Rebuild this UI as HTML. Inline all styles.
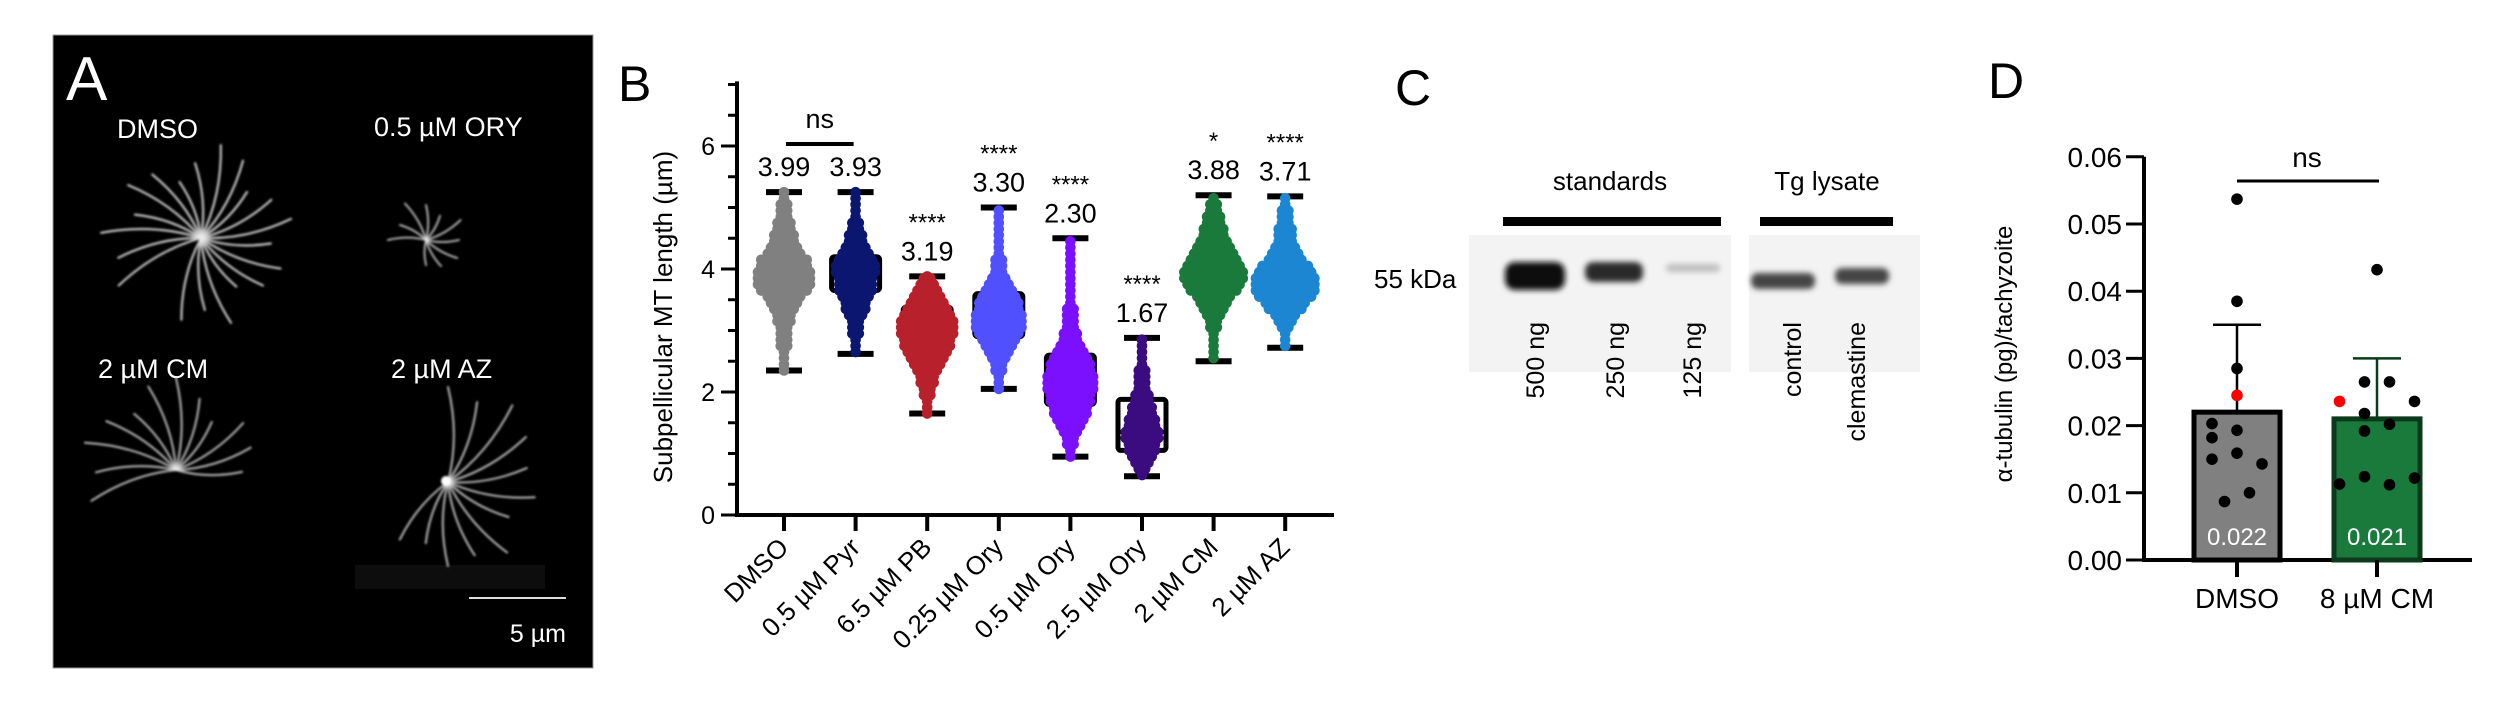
<!DOCTYPE html>
<html><head><meta charset="utf-8">
<style>
html,body{margin:0;padding:0;background:#fff;}
svg{display:block;font-family:"Liberation Sans",Arial,sans-serif;}
</style></head>
<body>
<svg id="fig" width="2495" height="712" viewBox="0 0 2495 712" xmlns="http://www.w3.org/2000/svg">
<defs>
<filter id="glow" x="-20%" y="-20%" width="140%" height="140%"><feGaussianBlur stdDeviation="1.1"/></filter>
<filter id="bandblur" x="-20%" y="-50%" width="140%" height="200%"><feGaussianBlur stdDeviation="3"/></filter>
</defs>

<!-- Panel A -->
<g>
<rect x="53" y="35" width="540" height="633" fill="#000" stroke="#999" stroke-width="1"/>
<rect x="355" y="565" width="190" height="24" fill="#0d0d0d"/>
<text x="66" y="100" font-size="62" fill="#fff">A</text>
<text x="117" y="138" font-size="27" fill="#fff">DMSO</text>
<text x="374" y="136" font-size="27" fill="#fff">0.5 µM ORY</text>
<text x="98" y="378" font-size="27" fill="#fff">2 µM CM</text>
<text x="391" y="378" font-size="27" fill="#fff">2 µM AZ</text>
<line x1="469" y1="598" x2="566" y2="598" stroke="#ddd" stroke-width="2"/>
<text x="566" y="642" font-size="25" fill="#fff" text-anchor="end">5 µm</text>
<g id="cells" filter="url(#glow)"></g>
</g>

<!-- Panel B -->
<g id="panelB">
<text x="618" y="101" font-size="50" fill="#000">B</text>
<text transform="translate(672,317) rotate(-90)" font-size="26" text-anchor="middle">Subpellicular MT length  (µm)</text>
</g>

<!-- Panel C -->
<g>
<text x="1395" y="105" font-size="50" fill="#000">C</text>
<text x="1610" y="190" font-size="26" text-anchor="middle">standards</text>
<rect x="1503" y="217" width="218" height="9" fill="#000"/>
<text x="1827" y="190" font-size="26" text-anchor="middle">Tg lysate</text>
<rect x="1760" y="217" width="133" height="9" fill="#000"/>
<rect x="1469" y="235" width="262" height="137" fill="#f3f3f3"/>
<rect x="1749" y="235" width="171" height="137" fill="#f3f3f3"/>
<g filter="url(#bandblur)">
<rect x="1505" y="262" width="60" height="28" rx="10" fill="#111"/>
<rect x="1585" y="262" width="58" height="20" rx="8" fill="#2a2a2a"/>
<rect x="1666" y="264" width="54" height="8" rx="4" fill="#bdbdbd"/>
<rect x="1751" y="273" width="64" height="16" rx="7" fill="#444"/>
<rect x="1835" y="268" width="54" height="16" rx="7" fill="#444"/>
</g>
<text x="1374" y="288" font-size="26">55 kDa</text>
<text transform="translate(1544,322) rotate(-90)" font-size="25" text-anchor="end">500 ng</text>
<text transform="translate(1624,322) rotate(-90)" font-size="25" text-anchor="end">250 ng</text>
<text transform="translate(1701,322) rotate(-90)" font-size="25" text-anchor="end">125 ng</text>
<text transform="translate(1801,322) rotate(-90)" font-size="25" text-anchor="end">control</text>
<text transform="translate(1865,322) rotate(-90)" font-size="25" text-anchor="end">clemastine</text>
</g>

<!-- Panel D -->
<g id="panelD">
<text x="1988" y="98" font-size="50" fill="#000">D</text>
<text transform="translate(2012,354) rotate(-90)" font-size="24" text-anchor="middle">α-tubulin (pg)/tachyzoite</text>
</g>
</svg>

<script>
// ---------- Panel B data ----------
var bCategories = ["DMSO","0.5 µM Pyr","6.5 µM PB","0.25 µM Ory","0.5 µM Ory","2.5 µM Ory","2 µM CM","2 µM AZ"];
var bColors = ["#808080","#0b1670","#b8202c","#5050ff","#7a10ff","#3a0c80","#1a7a3c","#1c86d2"];
var bMeanLabels = ["3.99","3.93","3.19","3.30","2.30","1.67","3.88","3.71"];
var bStars = ["","","****","****","****","****","*","****"];
var bWhiskerLow = [2.35,2.62,1.65,2.05,0.95,0.63,2.5,2.72];
var bWhiskerHigh = [5.25,5.25,3.88,5.0,4.5,2.88,5.2,5.18];
var bQ1 = [3.62,3.65,2.75,2.9,1.8,1.05,3.7,3.55];
var bQ3 = [4.15,4.2,3.38,3.6,2.6,1.88,4.12,3.92];
var bMedian = [3.88,3.88,3.0,3.2,2.2,1.35,3.85,3.7];
var bBinStart = [2.3,2.6,1.6,2.0,0.9,0.6,2.5,2.7];
var bCounts = [
 [1,1,1,1,2,2,2,2,3,3,4,5,6,8,9,9,9,8,8,6,5,4,4,3,3,2,2,2,1,1],
 [1,1,1,2,2,2,3,4,4,5,6,6,6,7,7,6,5,4,3,3,2,2,1,1,1,1,1],
 [1,1,1,2,2,3,3,4,5,6,7,8,8,9,9,9,8,7,6,5,4,3,2,1],
 [1,1,1,2,2,3,4,5,6,7,8,8,8,7,7,6,5,4,3,2,2,2,1,1,1,1,1,1,1,1],
 [1,1,2,2,3,4,5,6,6,7,7,8,8,8,7,7,6,5,4,3,3,2,2,2,2,1,1,1,1,1,1,1,1,1,1,1],
 [1,2,3,4,5,5,6,6,5,5,4,4,3,3,2,2,2,2,1,1,1,1,1],
 [1,1,1,1,1,2,2,3,4,5,6,8,9,10,10,9,8,7,6,5,4,4,3,3,2,2,1],
 [1,1,1,2,3,4,6,7,9,10,10,10,9,8,6,5,4,3,3,3,2,2,2,1,1]
];
var bYTicks = [0,2,4,6];

// ---------- Panel D data ----------
var dCategories = ["DMSO","8 µM CM"];
var dMeans = [0.022,0.021];
var dMeanLabels = ["0.022","0.021"];
var dSD = [0.013,0.009];
var dYTicks = [0,0.01,0.02,0.03,0.04,0.05,0.06];
var dYTickLabels = ["0.00","0.01","0.02","0.03","0.04","0.05","0.06"];
var dPointsDMSO = [0.0537,0.0385,0.0285,0.0245,0.0203,0.0193,0.0182,0.0159,0.015,0.0143,0.01,0.0087];
var dOffsetsDMSO = [0,0,0,0,-1,0,-1,0,-1,1,0.5,-0.5];
var dPointsCM = [0.0432,0.0265,0.0265,0.0236,0.0236,0.0218,0.0202,0.0192,0.0113,0.0124,0.0112,0.0122];
var dOffsetsCM = [0,-0.5,0.5,-1.5,1.5,-0.5,0.5,-0.5,-1.5,-0.5,0.5,1.5];
var dRedIndex = 3;

var NS = "http://www.w3.org/2000/svg";
function mk(tag, attrs, parent){
  var e = document.createElementNS(NS, tag);
  for (var k in attrs) e.setAttribute(k, attrs[k]);
  parent.appendChild(e);
  return e;
}

// ---------- Panel B draw ----------
(function(){
  var g = document.getElementById("panelB");
  var axX = 737, y0 = 515, unit = 61.5, x0 = 784, step = 71.6, xEnd = 1334;
  function yS(v){ return y0 - v*unit; }
  function xS(i){ return x0 + i*step; }
  var yl = mk("line",{x1:axX,y1:yS(7.05),x2:axX,y2:y0+2,stroke:"#000","stroke-width":4},g);
  
  
  var xl = mk("line",{x1:axX-2,y1:y0,x2:xEnd,y2:y0,stroke:"#000","stroke-width":4},g);
  
  
  for (var t=0;t<=14;t++){
    var v=t*0.5, major = (v%2===0);
    var tk = mk("line",{x1:axX-(major?16:9),y1:yS(v),x2:axX,y2:yS(v),stroke:"#000","stroke-width":3},g);
    
    
  }
  bYTicks.forEach(function(v){
    var tx = mk("text",{x:axX-22,y:yS(v)+9,"font-size":25,"text-anchor":"end"},g);
    tx.textContent = v;
    
    
  });
  bCategories.forEach(function(c,i){
    var x = xS(i);
    var tk = mk("line",{x1:x,y1:y0,x2:x,y2:y0+16,stroke:"#000","stroke-width":4},g);
    
    
    var lb = mk("text",{transform:"translate("+(x+6)+","+(y0+34)+") rotate(-45)","font-size":26,"text-anchor":"end"},g);
    lb.textContent = c;
    
    
    // box & whiskers
    var grp = mk("g",{},g);
    
    
    var wl = mk("line",{x1:x,y1:yS(bWhiskerLow[i]),x2:x,y2:yS(bWhiskerHigh[i]),stroke:"#000","stroke-width":4},grp);
    
    
    [bWhiskerLow[i],bWhiskerHigh[i]].forEach(function(w){
      var cp = mk("line",{x1:x-18,y1:yS(w),x2:x+18,y2:yS(w),stroke:"#000","stroke-width":6},grp);
      
      
    });
    var bx = mk("rect",{x:x-24,y:yS(bQ3[i]),width:48,height:yS(bQ1[i])-yS(bQ3[i]),fill:"none",stroke:"#000","stroke-width":5,rx:3},grp);
    
    
    var md = mk("line",{x1:x-24,y1:yS(bMedian[i]),x2:x+24,y2:yS(bMedian[i]),stroke:"#000","stroke-width":4},grp);
    
    
    // swarm
    var counts = bCounts[i];
    for (var b=0;b<counts.length;b++){
      var v = bBinStart[i] + b*0.1 + 0.05;
      if (v > bWhiskerHigh[i]) v = bWhiskerHigh[i];
      if (v < bWhiskerLow[i]) v = bWhiskerLow[i];
      var n = counts[b];
      for (var k=0;k<n;k++){
        var dx = (k-(n-1)/2)*6.5;
        var dt = mk("circle",{cx:x+dx,cy:yS(v),r:5.3,fill:bColors[i]},grp);
        
        
      }
    }
    // labels
    var ml = mk("text",{x:x,y:yS(bWhiskerHigh[i])-16,"font-size":27,"text-anchor":"middle"},g);
    ml.textContent = bMeanLabels[i];
    
    
    if (bStars[i]){
      var st = mk("text",{x:x,y:yS(bWhiskerHigh[i])-46,"font-size":24,"text-anchor":"middle"},g);
      st.textContent = bStars[i];
      
      
    }
  });
  var nsl = mk("line",{x1:xS(0)+2,y1:144,x2:xS(1)-2,y2:144,stroke:"#000","stroke-width":4},g);
  
  
  var nst = mk("text",{x:(xS(0)+xS(1))/2,y:128,"font-size":27,"text-anchor":"middle"},g);
  nst.textContent = "ns";
  
  
})();

// ---------- Panel D draw ----------
(function(){
  var g = document.getElementById("panelD");
  var axX = 2144, y0 = 560, unit = 6720, xEnd = 2472;
  var xc = [2237,2377], bw = 90, dotStep = 25;
  function yS(v){ return y0 - v*unit; }
  var yl = mk("line",{x1:axX,y1:yS(0.06),x2:axX,y2:y0+2,stroke:"#000","stroke-width":4},g);
  
  
  var xl = mk("line",{x1:axX-2,y1:y0,x2:xEnd,y2:y0,stroke:"#000","stroke-width":4},g);
  
  
  dYTicks.forEach(function(v,i){
    var tk = mk("line",{x1:axX-18,y1:yS(v),x2:axX,y2:yS(v),stroke:"#000","stroke-width":3},g);
    
    
    var tx = mk("text",{x:axX-22,y:yS(v)+10,"font-size":28,"text-anchor":"end"},g);
    tx.textContent = dYTickLabels[i];
    
    
  });
  var fills = ["#808080","#1a7a3c"], strokes = ["#000","#0a3a1a"];
  var pts = [dPointsDMSO,dPointsCM], offs = [dOffsetsDMSO,dOffsetsCM];
  dCategories.forEach(function(c,i){
    var x = xc[i];
    var bar = mk("rect",{x:x-bw/2+2,y:yS(dMeans[i]),width:bw-4,height:y0-yS(dMeans[i]),fill:fills[i],stroke:strokes[i],"stroke-width":5},g);
    
    
    var eb = mk("line",{x1:x,y1:yS(dMeans[i]),x2:x,y2:yS(dMeans[i]+dSD[i]),stroke:strokes[i],"stroke-width":2.5},g);
    
    
    var cap = mk("line",{x1:x-24,y1:yS(dMeans[i]+dSD[i]),x2:x+24,y2:yS(dMeans[i]+dSD[i]),stroke:strokes[i],"stroke-width":2.5},g);
    
    
    pts[i].forEach(function(v,k){
      var dt = mk("circle",{cx:x+offs[i][k]*dotStep,cy:yS(v),r:5.8,fill:(k===dRedIndex?"#ff0000":"#000")},g);
      
      
    });
    var vl = mk("text",{x:x,y:545,"font-size":24,fill:"#fff","text-anchor":"middle"},g);
    vl.textContent = dMeanLabels[i];
    
    
    var tk = mk("line",{x1:x,y1:y0,x2:x,y2:y0+17,stroke:"#000","stroke-width":4},g);
    
    
    var lb = mk("text",{x:x,y:608,"font-size":28,"text-anchor":"middle"},g);
    lb.textContent = c;
    
    
  });
  var nsl = mk("line",{x1:xc[0],y1:181,x2:xc[1]+2,y2:181,stroke:"#000","stroke-width":3},g);
  
  
  var nst = mk("text",{x:(xc[0]+xc[1])/2,y:167,"font-size":28,"text-anchor":"middle"},g);
  nst.textContent = "ns";
  
  
})();

// ---------- Panel A cells (decorative microscopy) ----------
(function(){
  var g = document.getElementById("cells");
  var cells = [
    {cx:201,cy:238,len:[95,85,100,70,90,80,60,75,95,88,65,80,92,70,85,78,60,90,72,84],start:150,span:330,w:2.2,op:0.85},
    {cx:426,cy:240,len:[38,30,42,35,28,40,33,36,30,25],start:180,span:300,w:2,op:0.75},
    {cx:176,cy:470,len:[90,80,95,85,70,88,92,75,60,82,78,66],start:160,span:220,w:2,op:0.8},
    {cx:448,cy:482,len:[95,85,100,90,80,88,70,92,78,84,65,75],start:-90,span:240,w:2,op:0.8}
  ];
  cells.forEach(function(c){
    var n = c.len.length;
    c.len.forEach(function(L,k){
      var a = (c.start + k*c.span/n)*Math.PI/180;
      var mx = c.cx + Math.cos(a+0.25)*L*0.5, my = c.cy + Math.sin(a+0.25)*L*0.5;
      var ex = c.cx + Math.cos(a)*L, ey = c.cy + Math.sin(a)*L;
      var p = mk("path",{d:"M"+c.cx+","+c.cy+" Q"+mx.toFixed(1)+","+my.toFixed(1)+" "+ex.toFixed(1)+","+ey.toFixed(1),fill:"none",stroke:"#e8e8e8","stroke-width":c.w,"stroke-opacity":c.op,"stroke-linecap":"round"},g);
      
      
    });
  });
  var dot = mk("circle",{cx:446,cy:481,r:5,fill:"#fff"},g);
  
  
})();
</script>
</body></html>
